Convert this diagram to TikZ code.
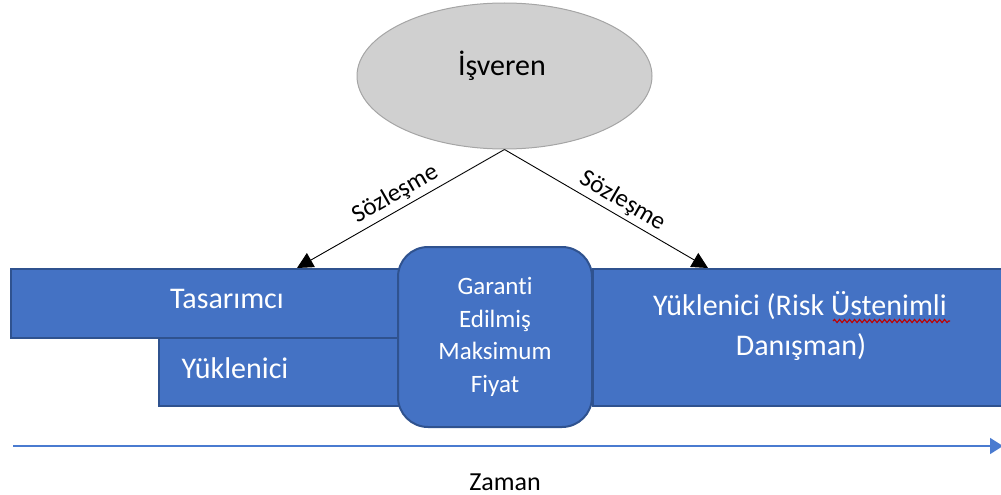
\documentclass[tikz,border=0pt]{standalone}
\usepackage{fontspec}
\setmainfont{Carlito}[Ligatures=NoCommon]
\usetikzlibrary{shapes.geometric,arrows.meta,decorations.pathmorphing}
\definecolor{boxblue}{HTML}{4472C4}
\definecolor{boxedge}{HTML}{2F528F}
\definecolor{ovalfill}{RGB}{208,208,208}
\definecolor{ovaledge}{RGB}{165,165,165}
\definecolor{spellred}{HTML}{C00000}
\definecolor{timeblue}{HTML}{4A7BD0}

\begin{document}
\begin{tikzpicture}[x=1pt,y=-1pt,
  phase/.style={draw=boxedge, fill=boxblue, line width=2pt, inner sep=0pt, anchor=north west},
  boxtext/.style={text=white, font=\fontsize{30}{40}\selectfont, anchor=base, inner sep=0pt},
  contract/.style={draw=black, line width=0.9pt, -{Triangle[length=16pt,width=16pt]}},
  contractlabel/.style={sloped, above=2pt, inner sep=2pt, font=\fontsize{25}{28}\selectfont},
]
\useasboundingbox (0,0) rectangle (1001,495);

% employer
\node[ellipse, draw=ovaledge, fill=ovalfill, line width=1pt,
      minimum width=295pt, minimum height=146pt, inner sep=0pt] (isveren) at (504.5,76) {};
\node[anchor=base, inner sep=0pt, font=\fontsize{30}{36}\selectfont] (isverenlbl) at (502,75) {İşveren};

% contract arrows (tips tucked against the phase bars)
\coordinate (ltip) at (297,268);
\coordinate (rtip) at (708,268);
\draw[contract] (isveren.south) -- node[contractlabel, pos=0.49] (lcontract) {Sözleşme} (ltip);
\draw[contract] (isveren.south) -- node[contractlabel, pos=0.545] (rcontract) {Sözleşme} (rtip);

% phase bars
\node[phase, minimum width=410pt, minimum height=69pt] (tasarimci) at (10,268) {};
\node[phase, minimum width=262pt, minimum height=68pt] (yuklenici) at (158,337) {};
\node[phase, minimum width=415pt, minimum height=137pt] (riskyuk) at (592,268) {};

% guaranteed maximum price
\node[draw=boxedge, fill=boxblue, line width=2pt, rounded corners=30pt,
      minimum width=194pt, minimum height=180pt, inner sep=0pt,
      text=white, align=center, font=\fontsize{25}{32.7}\selectfont] (gmp) at (495,337)
      {Garanti\\Edilmiş\\Maksimum\\Fiyat};

% bar labels
\node[boxtext] (tasarimcilbl) at (227,308) {Tasarımcı};
\node[boxtext] (yuklenicilbl) at (235,378) {Yüklenici};
\node[boxtext] (risk1) at (800,315) {Yüklenici (Risk Üstenimli};
\node[boxtext] (risk2) at (801,355) {Danışman)};
\draw[spellred, line width=1.1pt, decorate,
      decoration={snake, amplitude=1.6pt, segment length=5pt}] (833,321) -- (950,321);

% time axis
\coordinate (tstart) at (13,446);
\coordinate (tend) at (1003,446);
\draw[timeblue, line width=1.6pt, -{Triangle[length=13pt,width=16pt]}] (tstart) -- (tend);
\node[anchor=base, inner sep=0pt, font=\fontsize{26}{30}\selectfont] (zaman) at (505,490) {Zaman};
\end{tikzpicture}
\end{document}
